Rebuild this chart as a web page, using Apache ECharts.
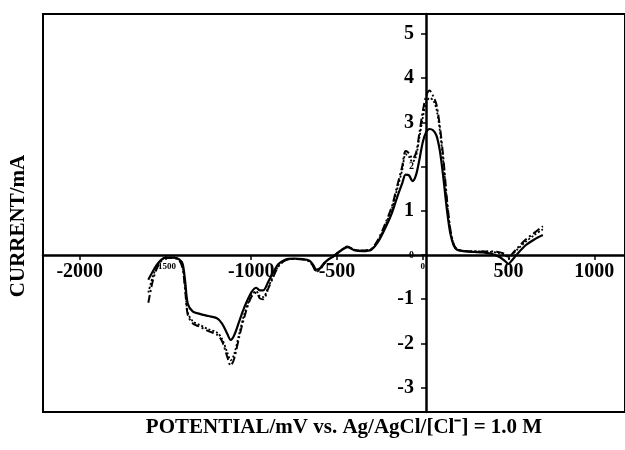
<!DOCTYPE html>
<html>
<head>
<meta charset="utf-8">
<script src="https://cdn.jsdelivr.net/npm/echarts@6/dist/echarts.min.js"></script>
<style>html,body{margin:0;padding:0;background:#fff}#c{width:625px;height:450px}</style>
</head>
<body>
<div id="c"></div>
<script>
// Potential (mV) sample points shared by all three curves
const potential = [-1600,-1575,-1550,-1525,-1500,-1450,-1420,-1400,-1385,-1370,-1340,-1300,-1250,-1200,-1170,-1140,-1120,-1100,-1070,-1040,-1000,-970,-950,-930,-900,-870,-840,-800,-750,-700,-660,-640,-620,-600,-575,-550,-520,-480,-440,-400,-350,-300,-260,-220,-180,-150,-120,-100,-80,-60,-40,-20,0,20,40,60,80,100,120,140,160,180,200,250,300,350,400,450,480,500,520,550,600,650,700];
// Current (mA) — solid curve
const currentSolid = [-0.56,-0.38,-0.22,-0.11,-0.06,-0.06,-0.10,-0.2,-0.6,-1.1,-1.28,-1.33,-1.38,-1.43,-1.55,-1.78,-1.92,-1.82,-1.5,-1.18,-0.85,-0.74,-0.8,-0.8,-0.6,-0.38,-0.2,-0.1,-0.08,-0.09,-0.13,-0.22,-0.33,-0.3,-0.18,-0.1,-0.03,0.09,0.18,0.11,0.09,0.12,0.3,0.6,0.95,1.3,1.62,1.82,1.8,1.67,1.8,2.15,2.55,2.78,2.85,2.82,2.7,2.35,1.75,1.05,0.5,0.22,0.12,0.08,0.07,0.06,0.03,-0.05,-0.14,-0.2,-0.12,0.02,0.22,0.35,0.45];
// Current (mA) — dash-dot curve
const currentDashDot = [-1.08,-0.6,-0.3,-0.14,-0.07,-0.07,-0.12,-0.3,-0.8,-1.35,-1.55,-1.62,-1.72,-1.8,-1.95,-2.3,-2.5,-2.35,-1.85,-1.4,-0.95,-0.85,-0.98,-1.0,-0.75,-0.48,-0.25,-0.12,-0.09,-0.1,-0.15,-0.25,-0.38,-0.33,-0.2,-0.1,-0.02,0.1,0.19,0.12,0.1,0.14,0.35,0.7,1.1,1.55,2.0,2.35,2.3,2.18,2.3,2.75,3.25,3.6,3.72,3.6,3.4,2.9,2.2,1.3,0.6,0.25,0.13,0.09,0.08,0.08,0.08,0.06,0.02,-0.05,0.02,0.15,0.35,0.5,0.65];
// Current (mA) — dotted curve
const currentDotted = [-0.85,-0.5,-0.26,-0.12,-0.06,-0.06,-0.11,-0.27,-0.75,-1.3,-1.5,-1.58,-1.68,-1.75,-1.9,-2.2,-2.38,-2.25,-1.78,-1.33,-0.92,-0.82,-0.93,-0.95,-0.72,-0.46,-0.24,-0.11,-0.09,-0.1,-0.14,-0.24,-0.36,-0.32,-0.19,-0.1,-0.02,0.1,0.18,0.12,0.1,0.13,0.33,0.66,1.05,1.48,1.92,2.28,2.22,2.1,2.22,2.65,3.1,3.45,3.55,3.5,3.3,2.8,2.1,1.25,0.58,0.24,0.13,0.09,0.08,0.08,0.07,0.04,0.0,-0.08,0.0,0.12,0.3,0.45,0.58];
// Tick labels
const xTicks = [-2000,-1500,-1000,-500,0,500,1000];
const yTicks = [-3,-2,-1,0,1,2,3,4,5];
const smallX = [-1500, 0];
const smallY = [0, 2];

const pairs = ys => potential.map((p, i) => [p, ys[i]]);
const font = '"Liberation Serif","Times New Roman",serif';

const G = {left: 43, top: 14, width: 587, height: 398};
const X_MIN = -2214, X_MAX = 1179, Y_MIN = -3.55, Y_MAX = 5.45;
// offsets so that the axes cross at the data origin
const xOff = -(G.height * (0 - Y_MIN) / (Y_MAX - Y_MIN));
const yOff = -(G.width * (0 - X_MIN) / (X_MAX - X_MIN));

const chart = echarts.init(document.getElementById('c'), null, {renderer: 'canvas'});
chart.setOption({
  animation: false,
  backgroundColor: '#fff',
  grid: Object.assign({show: true, borderColor: '#000', borderWidth: 2, backgroundColor: 'transparent'}, G),
  xAxis: {
    type: 'value', min: X_MIN, max: X_MAX, position: 'bottom', offset: xOff,
    axisLine: {onZero: false, lineStyle: {color: '#000', width: 2.5}},
    axisTick: {show: true, customValues: xTicks, length: 5, lineStyle: {color: '#000', width: 1.5}},
    axisLabel: {
      customValues: xTicks, margin: 7, color: '#000', fontFamily: font, fontWeight: 'bold', fontSize: 20,
      formatter: v => smallX.includes(v) ? '{s|' + v + '}' : String(v),
      rich: {s: {fontSize: 9, fontFamily: font, color: '#000'}}
    },
    splitLine: {show: false}
  },
  yAxis: {
    type: 'value', min: Y_MIN, max: Y_MAX, position: 'left', offset: yOff,
    axisLine: {onZero: false, lineStyle: {color: '#000', width: 2.5}},
    axisTick: {show: true, customValues: yTicks, length: 5, lineStyle: {color: '#000', width: 1.5}},
    axisLabel: {
      customValues: yTicks, margin: 12, color: '#000', fontFamily: font, fontWeight: 'bold', fontSize: 20,
      formatter: v => smallY.includes(v) ? '{s|' + v + '}' : String(v),
      rich: {s: {fontSize: 10, fontFamily: font, color: '#000'}}
    },
    splitLine: {show: false}
  },
  series: [
    {type: 'line', data: pairs(currentDotted), smooth: 0.3, symbol: 'none', z: 3,
     lineStyle: {color: '#000', width: 1.8, type: [2, 2]}},
    {type: 'line', data: pairs(currentDashDot), smooth: 0.3, symbol: 'none', z: 4,
     lineStyle: {color: '#000', width: 2, type: [8, 3, 2, 3]}},
    {type: 'line', data: pairs(currentSolid), smooth: 0.3, symbol: 'none', z: 5,
     lineStyle: {color: '#000', width: 2.2}}
  ],
  graphic: [
    {type: 'text', x: 19, y: 226, rotation: Math.PI / 2,
     style: {text: 'CURRENT/mA', font: 'bold 21px ' + font, fill: '#000', align: 'center', verticalAlign: 'middle'}},
    {type: 'text', x: 344, y: 428,
     style: {text: 'POTENTIAL/mV vs. Ag/AgCl/[Cl\u207B] = 1.0 M', font: 'bold 21px ' + font, fill: '#000', align: 'center', verticalAlign: 'middle'}}
  ]
});
</script>
</body>
</html>
